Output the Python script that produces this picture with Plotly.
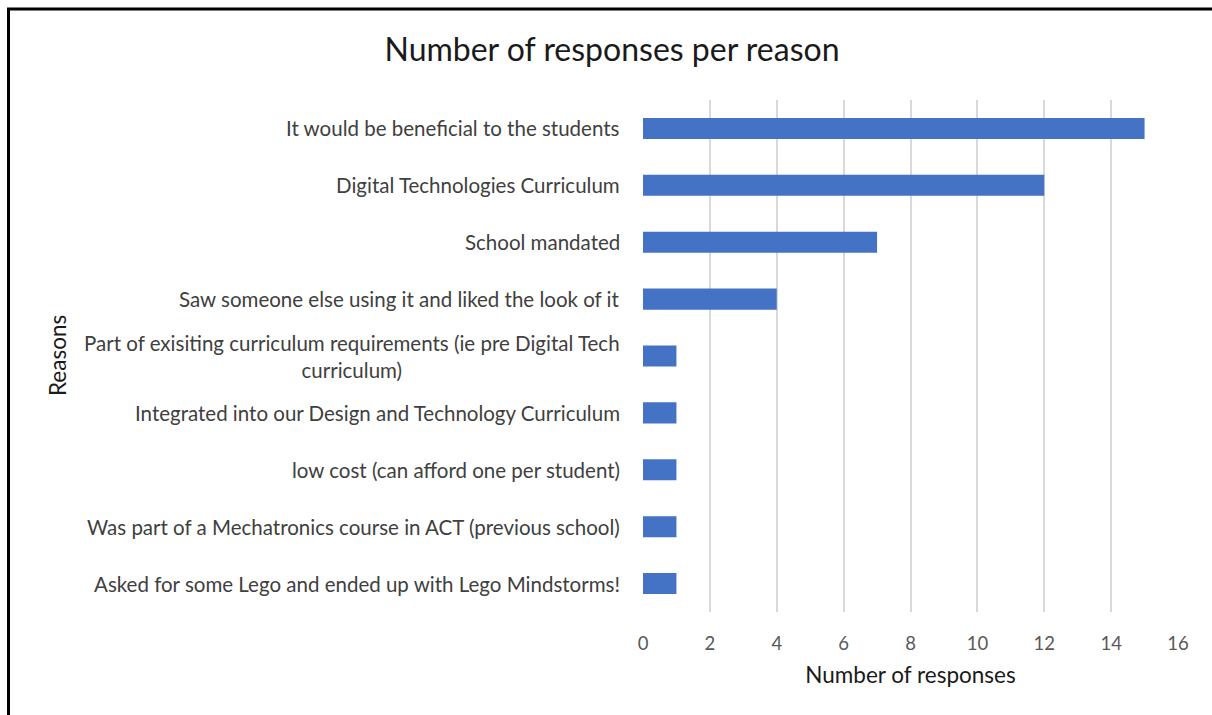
import plotly.graph_objects as go

reasons = [
    "Asked for some Lego and ended up with Lego Mindstorms!",
    "Was part of a Mechatronics course in ACT (previous school)",
    "low cost (can afford one per student)",
    "Integrated into our Design and Technology Curriculum",
    "Part of exisiting curriculum requirements (ie pre Digital Tech<br>curriculum)",
    "Saw someone else using it and liked the look of it",
    "School mandated",
    "Digital Technologies Curriculum",
    "It would be beneficial to the students",
]
counts = [1, 1, 1, 1, 1, 4, 7, 12, 15]
x_ticks = [0, 2, 4, 6, 8, 10, 12, 14, 16]

FONT = "Lato, Carlito, Calibri, sans-serif"

fig = go.Figure(go.Bar(
    y=reasons, x=counts, orientation="h",
    marker=dict(color="#4472C4", line=dict(width=0)),
))

W, H = 1212, 715
ml, mr, mt, mb = 643, 34, 100, 103
pw, ph = W - ml - mr, H - mt - mb

annotations = []
for r in reasons:
    annotations.append(dict(
        x=0, xref="paper", y=r, yref="y", text=r, showarrow=False,
        xanchor="right", align="center", xshift=-21,
        font=dict(family=FONT, size=20.5, color="#404040"),
    ))

fig.update_layout(
    width=W, height=H,
    margin=dict(l=ml, r=mr, t=mt, b=mb),
    paper_bgcolor="white", plot_bgcolor="white",
    bargap=0.63,
    showlegend=False,
    title=dict(text="Number of responses per reason", x=612 / W, xanchor="center",
               y=1 - 50 / H, yanchor="middle",
               font=dict(family=FONT, size=32, color="#1a1a1a")),
    xaxis=dict(range=[0, 16], tickvals=x_ticks, showgrid=True, gridcolor="#D9D9D9", gridwidth=2,
               zeroline=False, showline=False, ticks="", ticklabelstandoff=18,
               tickfont=dict(family=FONT, size=18.5, color="#595959"),
               title=dict(text="Number of responses", standoff=14,
                          font=dict(family=FONT, size=22.5, color="#1a1a1a"))),
    yaxis=dict(showticklabels=False, showgrid=False, zeroline=False, showline=False, ticks="",
               categoryorder="array", categoryarray=reasons),
    annotations=annotations + [dict(
        x=(57 - ml) / pw, xref="paper", y=0.5, yref="paper", text="Reasons", textangle=-90,
        showarrow=False, xanchor="center", yanchor="middle",
        font=dict(family=FONT, size=22.5, color="#1a1a1a"))],
    shapes=[dict(type="rect", xref="paper", yref="paper",
                 x0=(8.5 - ml) / pw, x1=(W + 20 - ml) / pw,
                 y0=1 - (H + 20 - mt) / ph, y1=1 + (mt - 9) / ph,
                 line=dict(color="black", width=3), fillcolor="rgba(0,0,0,0)", layer="below")],
)

fig.write_html("out.html", config={"displayModeBar": False},
               post_script="document.body.style.margin='0';document.body.style.overflow='hidden';")
